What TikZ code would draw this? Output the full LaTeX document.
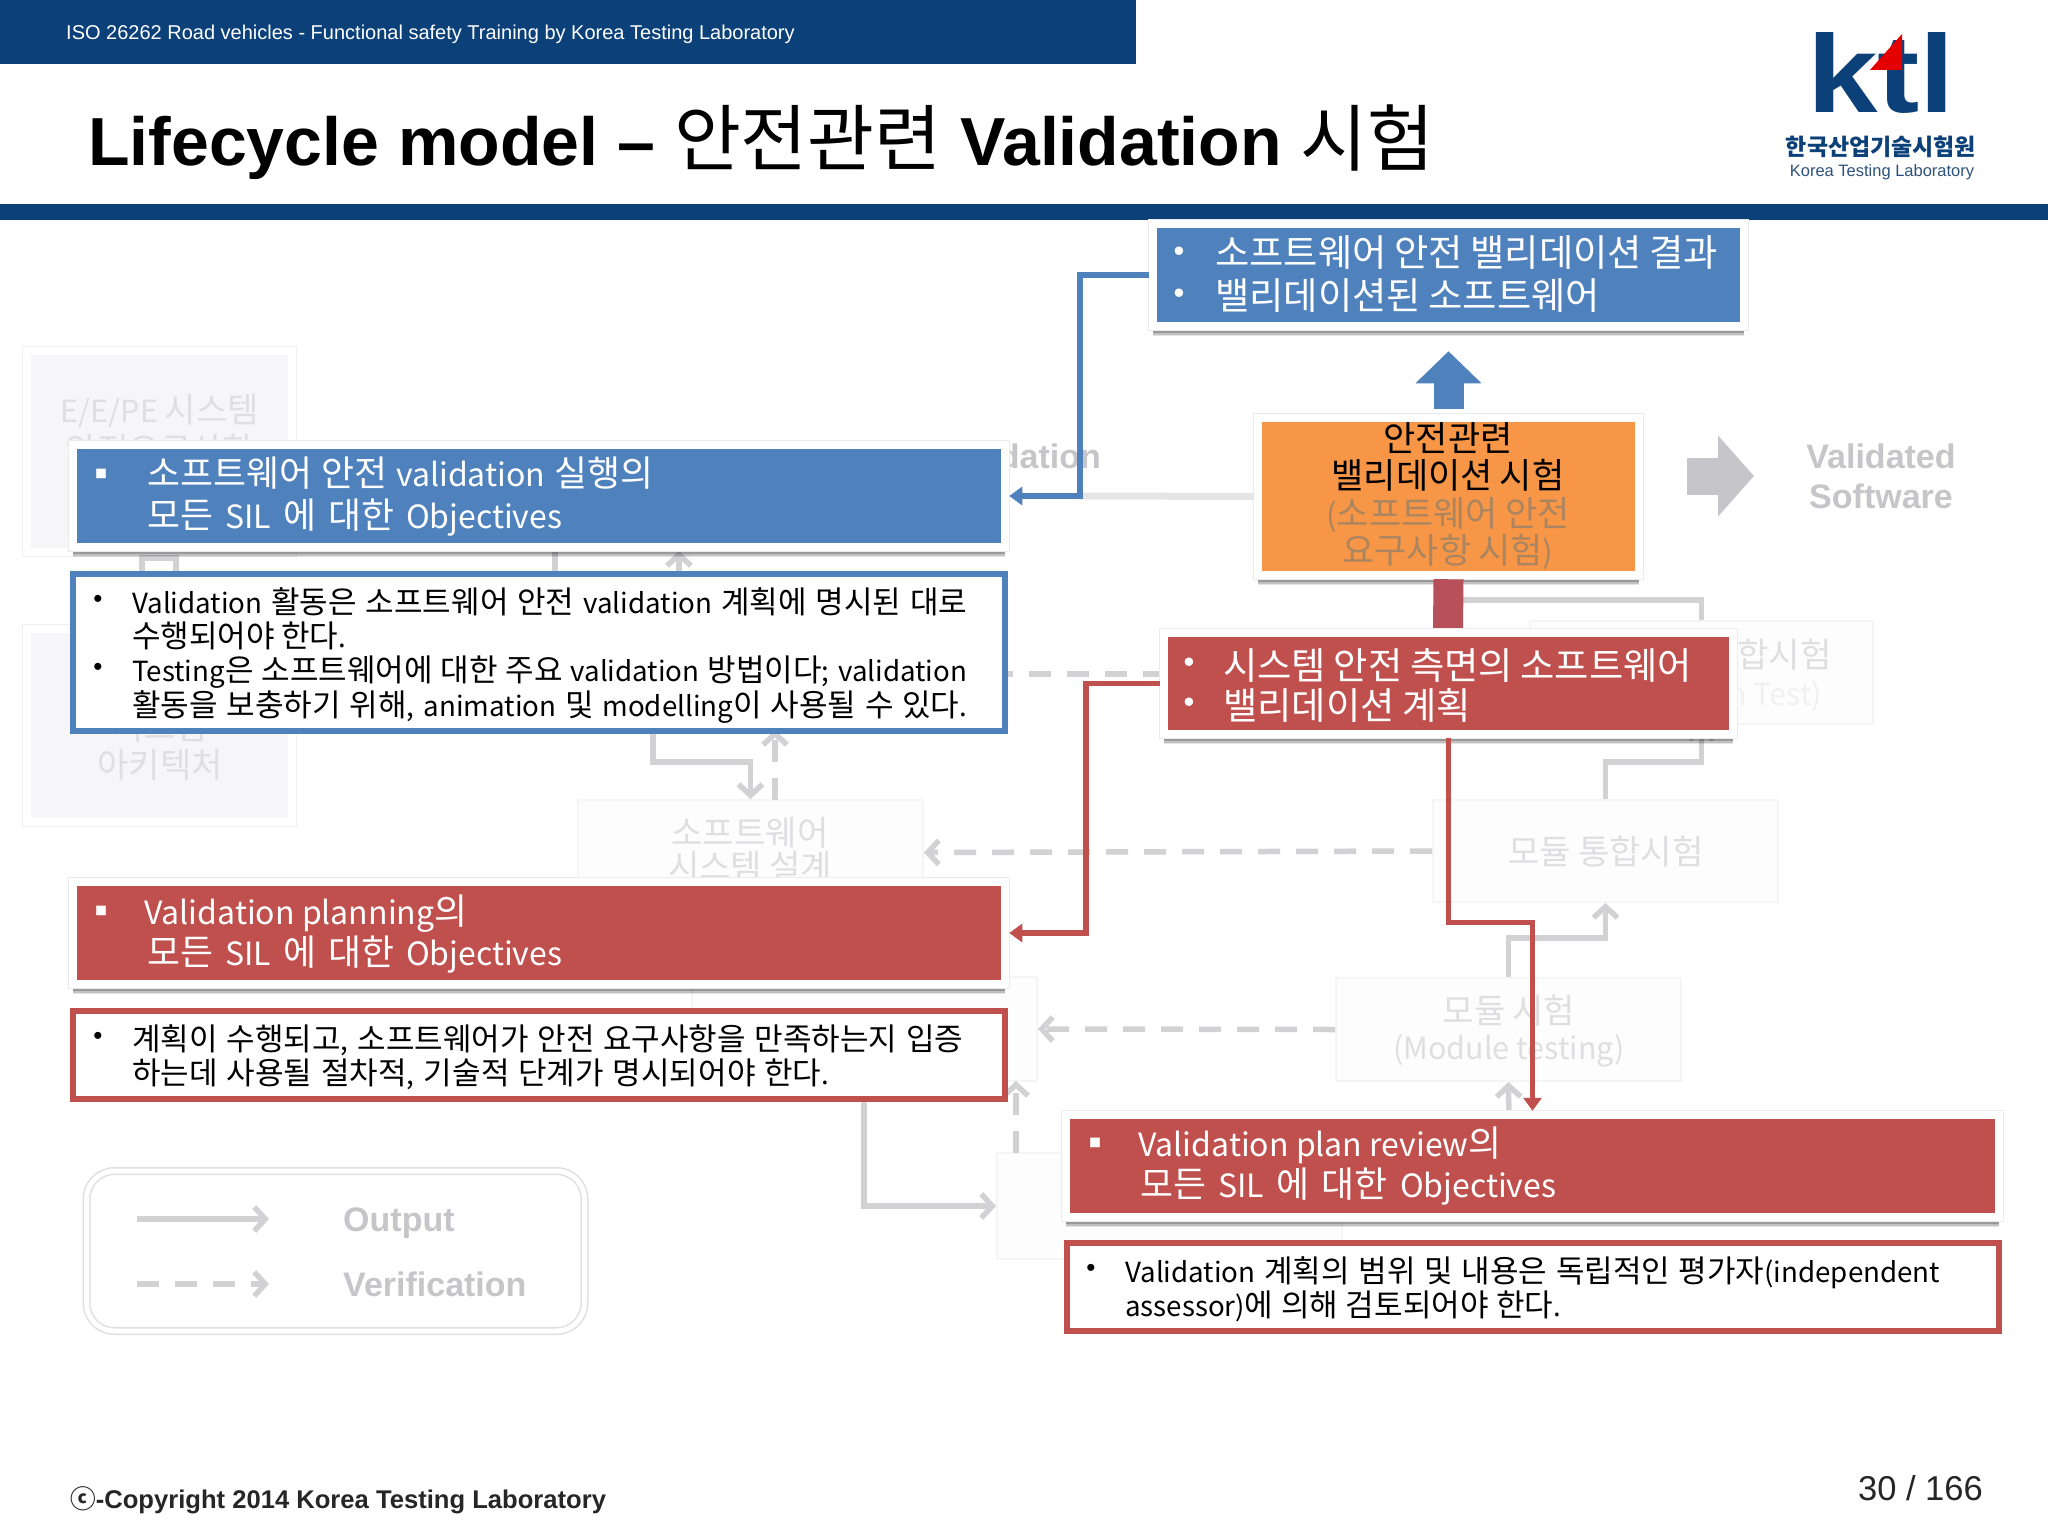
\documentclass[tikz,border=0pt]{standalone}
\usepackage{fontspec}
\setmainfont{Liberation Sans}
\newfontfamily\kr{Noto Sans CJK KR}
\newfontfamily\krH[Scale=1.12]{Noto Sans CJK KR}
\newfontfamily\krT[Scale=1.07]{Noto Sans CJK KR}
\let\hangulfont\krH
% every Hangul syllable is set a little larger than the Latin text around it
\XeTeXinterchartokenstate=1
\newXeTeXintercharclass\hangulclass
\newcount\hc
\hc="AC00
\loop
  \XeTeXcharclass\hc=\hangulclass
  \advance\hc 1
\ifnum\hc<"D7A4 \repeat
\XeTeXinterchartoks 0 \hangulclass = {\begingroup\hangulfont}
\XeTeXinterchartoks 4095 \hangulclass = {\begingroup\hangulfont}
\XeTeXinterchartoks \hangulclass 0 = {\endgroup}
\XeTeXinterchartoks \hangulclass 4095 = {\endgroup}
\usetikzlibrary{arrows.meta,shadows}
\definecolor{navy}{HTML}{0B4079}
\definecolor{cblue}{HTML}{4F81BD}
\definecolor{cred}{HTML}{C0504D}
\definecolor{shaftred}{HTML}{B8505A}
\definecolor{corange}{HTML}{F79646}
\definecolor{gl}{HTML}{D2D2D4}
\definecolor{gt}{HTML}{DFDFE2}
\definecolor{gb}{HTML}{C6C6CA}
\definecolor{gf}{HTML}{F6F6F8}
\definecolor{gs}{HTML}{FDFDFD}
\definecolor{ghosttext}{HTML}{AB8560}
\newcommand\fsz[1]{\fontsize{#1}{#1}\selectfont}
\newcommand\bx[6]{\node[#1,minimum width={#4-#2},minimum height={#5-#3}] (#6) at ({(#2+#4)/2},{(#3+#5)/2}) {};}
\newcommand\jl[2]{\makebox[#1pt][s]{#2}}
\tikzset{
  frame/.style={draw=white,line width=8.5pt,inner sep=0pt,fill=#1,
    drop shadow={shadow xshift=0pt,shadow yshift=-10pt,opacity=.10,fill=black},
    drop shadow={shadow xshift=0pt,shadow yshift=-8.5pt,opacity=.16,fill=black},
    drop shadow={shadow xshift=0pt,shadow yshift=-7pt,opacity=.2,fill=black},
    preaction={draw=gray!16,line width=10pt}},
  descbox/.style={draw=#1,line width=5.5pt,fill=white,inner sep=0pt},
  ghost/.style={draw=white,line width=8pt,fill=gf,inner sep=0pt,preaction={draw=gray!12,line width=10pt}},
  ghostlite/.style={draw=gray!8,line width=2pt,fill=gs,inner sep=0pt},
  tw/.style={inner sep=0pt,anchor=west,font=\kr\fsz{#1},text height=\the\dimexpr#1pt*88/100\relax,text depth=\the\dimexpr#1pt*12/100\relax},
  tc/.style={inner sep=0pt,anchor=center,align=center,font=\kr\fsz{#1},text height=\the\dimexpr#1pt*88/100\relax,text depth=\the\dimexpr#1pt*12/100\relax},
  dot/.style={inner sep=0pt,anchor=center,font=\fsz{26}},
  dotw/.style={inner sep=0pt,anchor=center,text=white,font=\fsz{31}},
  sq/.style={inner sep=0pt,anchor=center,font=\kr\fsz{12}},
  gline/.style={draw=gl,line width=5.5pt},
  garrow/.style={gline,-{Straight Barb[length=11pt,width=24pt,line width=5.5pt]}},
  gdash/.style={garrow,dash pattern=on 22pt off 16pt},
  bluearrow/.style={draw=cblue,line width=5.5pt,-{Triangle[length=13pt,width=18pt]}},
  redarrow/.style={draw=cred,line width=5.5pt,-{Triangle[length=13pt,width=18pt]}},
  gbold/.style={inner sep=0pt,text=gb,font=\bfseries\fsz{34}},
}
\begin{document}
\begin{tikzpicture}[x=1pt,y=-1pt]
\useasboundingbox (0,0) rectangle (2048,1536);
\fill[white] (0,0) rectangle (2048,1536);
% ---------- header
\fill[navy] (0,0) rectangle (1136,64);
\fill[navy] (0,204) rectangle (2048,220);
\node[inner sep=0pt,anchor=west,text=white,font=\fsz{20}] (hdr) at (66,34) {ISO 26262 Road vehicles - Functional safety Training by Korea Testing Laboratory};
\node[inner sep=0pt,anchor=west,font=\fsz{68}] (title) at (88,142) {\let\hangulfont\krT\textbf{Lifecycle model –} {\kr 안전관련} \textbf{Validation} {\kr 시험}};
% logo
\node[inner sep=0pt,anchor=north west,text=navy,font=\bfseries\fsz{100}] (ktl) at (1807,32) {\resizebox{148pt}{80pt}{ktl}};
\fill[red!90!black] (1902,34) -- (1902,70) -- (1870,70) -- cycle;
\node[inner sep=0pt,text=navy,font=\kr\bfseries\fsz{20.5}] (krlogo) at (1881,147) {한국산업기술시험원};
\node[inner sep=0pt,text=navy!70!gray,font=\fsz{16.5}] (enlogo) at (1882,172) {Korea Testing Laboratory};
% ---------- faded diagram behind
\bx{ghost}{27}{351}{292}{552}{eepe}
\node[tc=30.5,text=gt] (eepe1) at (160,411) {E/E/PE 시스템};
\node[tc=30.5,text=gt] (eepe2) at (160,451) {안전요구사항};
\bx{ghost}{27}{629}{292}{822}{arch}
\node[tc=30.5,text=gt] (arch1) at (160,728) {시스템};
\node[tc=30.5,text=gt] (arch2) at (160,766) {아키텍처};
\bx{ghostlite}{578}{800}{923}{905}{swsys}
\node[tc=30.5,text=gt] (swsys1) at (750,834) {소프트웨어};
\node[tc=30.5,text=gt] (swsys2) at (750,868) {시스템 설계};
\bx{ghostlite}{1433}{800}{1778}{902}{modint}
\node[tc=30.5,text=gt] (modint1) at (1606,853) {모듈 통합시험};
\bx{ghostlite}{1336}{978}{1681}{1081}{modtest}
\node[tc=30.5,text=gt] (modtest1) at (1509,1012) {모듈 시험};
\node[tc=30.5,text=gt] (modtest2) at (1509,1048) {(Module testing)};
\bx{ghostlite}{1530}{621}{1873}{724}{swint}
\node[tw=30.5,anchor=east,text=gt] (swint1) at (1832,656) {소프트웨어 통합시험};
\node[tc=30.5,text=gt!45!white] (swint2) at (1701,694) {(Integration Test)};
\bx{ghostlite}{692}{977}{1037}{1081}{unit}
\bx{ghostlite}{997}{1153}{1342}{1259}{coding}
\node[gbold,anchor=east] (valghost) at (1101,456) {Validation};
\node[gbold] (vd1) at (1881,456) {Validated};
\node[gbold] (vd2) at (1881,496) {Software};
\coordinate (ga1) at (1687,476);
\coordinate (ga2) at (1754,476);
\draw[draw=gb,line width=37pt,-{Triangle[length=36pt,width=79pt]}] (ga1) -- (ga2);
\coordinate (jt) at (1448,600);
\draw[gline] (swint.north) |- (jt);
\draw[garrow] (modint.north) -- ++(0,-37) -| (swint.south);
\draw[garrow] (modtest.north) -- ++(0,-39) -| (modint.south);
\draw[gdash] (modint.west) -- (swsys.east);
\draw[gdash] (modtest.west) -- (unit.east);
\coordinate (da) at (1165,674);
\coordinate (db) at (1008,674);
\draw[gline,dash pattern=on 22pt off 16pt] (da) -- (db);
\coordinate (sa) at (653,730);
\draw[garrow] (sa) -- (653,762) -| (swsys.north);
\coordinate (sb) at (775,800);
\coordinate (sc) at (775,730);
\draw[gdash] (sb) -- (sc);
\coordinate (ca) at (864,1095);
\draw[garrow] (ca) |- (coding.west);
\coordinate (cb) at (1016,1153);
\coordinate (cc) at (1016,1081);
\draw[gdash] (cb) -- (cc);
\coordinate (ma) at (1509,1125);
\draw[garrow] (ma) -- (modtest.south);
\coordinate (ba) at (142,575);
\coordinate (bb) at (176,575);
\draw[gline] (ba) -- (142,558) -- (176,558) -- (bb);
\coordinate (la) at (555,575);
\coordinate (lb) at (555,545);
\draw[gline] (la) -- (lb);
\coordinate (ta) at (679,585);
\coordinate (tb) at (679,551);
\draw[garrow] (ta) -- (tb);
% legend
\node[draw=gray!25,line width=1.5pt,double=white,double distance=5pt,rounded corners=28pt,minimum width=498pt,minimum height=160pt,inner sep=0pt] (legend) at (335.5,1251) {};
\coordinate (lg1) at (137,1219);
\coordinate (lg2) at (269,1219);
\coordinate (lg3) at (137,1284);
\coordinate (lg4) at (269,1284);
\draw[garrow] (lg1) -- (lg2);
\draw[gdash] (lg3) -- (lg4);
\node[gbold,anchor=west] (lgo) at (343,1223) {Output};
\node[gbold,anchor=west] (lgv) at (343,1284) {Verification};
% ---------- centre column
\bx{frame=corange}{1258}{418}{1639}{575}{orange}
\draw[draw=gray!20,line width=7pt] (orange.west) -- (1080,496);
\node[tc=31.3] (o1) at (1448,440) {안전관련};
\node[tc=31.3] (o2) at (1448,477) {밸리데이션 시험};
\node[tc=31.3,text=ghosttext] (o3) at (1448,515) {(소프트웨어 안전};
\node[tc=31.3,text=ghosttext] (o4) at (1448,552) {요구사항 시험)};
\bx{frame=cblue}{1153}{224}{1744}{326}{res}
\node[dotw] (r0) at (1179,254) {•};
\node[tw=33.3,text=white] (r1) at (1215,254) {\jl{503}{소프트웨어 안전 밸리데이션 결과}};
\node[dotw] (r0b) at (1179,296) {•};
\node[tw=33.3,text=white] (r2) at (1215,297) {밸리데이션된 소프트웨어};
\draw[draw=cblue,line width=30pt,shorten <=5pt,shorten >=21pt,-{Triangle[length=32pt,width=64pt]}] (orange.north) -- (res.south);
% red shaft and plan box
\coordinate (pn) at (1448,630);
\draw[draw=shaftred,line width=30pt,shorten <=-6pt] (pn) -- (orange.south);
\bx{frame=cred}{1164}{633}{1733}{734}{plan}
\node[dotw] (p0) at (1189,665) {•};
\node[tw=33.3,text=white] (p1) at (1223,667) {\jl{469}{시스템 안전 측면의 소프트웨어}};
\node[dotw] (p0b) at (1189,705) {•};
\node[tw=33.3,text=white] (p2) at (1223,707) {밸리데이션 계획};
% ---------- left blue
\bx{frame=cblue}{73}{445}{1005}{547}{bhead}
\node[sq,text=white] (b0) at (101,474) {■};
\node[tw=32,text=white] (b1) at (147,474) {\jl{506}{소프트웨어 안전 validation 실행의}};
\node[tw=32,text=white] (b2) at (147,516) {\jl{415}{모든 SIL 에 대한 Objectives}};
\bx{descbox=cblue}{73}{574}{1005}{731}{bdesc}
\node[dot] (bd0) at (98,601) {•};
\node[tw=27.7] (bd1) at (132,603) {\jl{835}{Validation 활동은 소프트웨어 안전 validation 계획에 명시된 대로}};
\node[tw=27.7] (bd2) at (132,637) {수행되어야 한다.};
\node[dot] (bd0b) at (98,669) {•};
\node[tw=27.7] (bd3) at (132,671) {\jl{835}{Testing은 소프트웨어에 대한 주요 validation 방법이다; validation}};
\node[tw=27.7] (bd4) at (132,706) {\jl{835}{활동을 보충하기 위해, animation 및 modelling이 사용될 수 있다.}};
% ---------- left red
\bx{frame=cred}{73}{882}{1005}{984}{rhead}
\node[sq,text=white] (c0) at (101,911) {■};
\node[tw=32,text=white] (c1) at (144,912) {Validation planning의};
\node[tw=32,text=white] (c2) at (147,953) {\jl{415}{모든 SIL 에 대한 Objectives}};
\bx{descbox=cred}{73}{1011}{1005}{1099}{rdesc}
\node[dot] (rd0) at (98,1038) {•};
\node[tw=27.7] (rd1) at (132,1040) {\jl{831}{계획이 수행되고, 소프트웨어가 안전 요구사항을 만족하는지 입증}};
\node[tw=27.7] (rd2) at (132,1074) {\jl{697}{하는데 사용될 절차적, 기술적 단계가 명시되어야 한다.}};
% ---------- right red
\bx{frame=cred}{1066}{1115}{1999}{1217}{rev}
\node[sq,text=white] (v0) at (1095,1143) {■};
\node[tw=32,text=white] (v1) at (1138,1144) {Validation plan review의};
\node[tw=32,text=white] (v2) at (1140,1185) {\jl{416}{모든 SIL 에 대한 Objectives}};
\bx{descbox=cred}{1067}{1243}{1999}{1331}{vdesc}
\node[dot] (vd0) at (1091,1270) {•};
\node[tw=27.7] (vd3) at (1125,1272) {\jl{815}{Validation 계획의 범위 및 내용은 독립적인 평가자(independent}};
\node[tw=27.7] (vd4) at (1125,1306) {\jl{436}{assessor)에 의해 검토되어야 한다.}};
% ---------- coloured connectors
\draw[bluearrow] (res.west) -- ++(-69,0) |- (bhead.east);
\draw[redarrow] (plan.west) -- ++(-74,0) |- (rhead.east);
\draw[redarrow] (plan.south) -- ++(0,184) -| (rev.north);
% ---------- footer
\node[inner sep=0pt,anchor=west,text=black!85,font=\bfseries\fsz{25.6}] (copy) at (70,1500) {{\kr ⓒ}-Copyright 2014 Korea Testing Laboratory};
\node[inner sep=0pt,anchor=east,text=black!85,font=\fsz{34.5}] (page) at (1983,1488) {30 / 166};
\end{tikzpicture}
\end{document}
